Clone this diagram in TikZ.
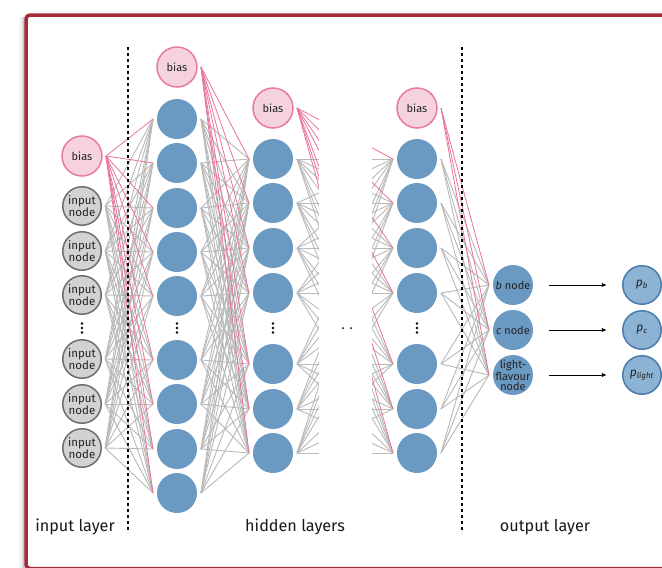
\documentclass[tikz,border=0pt]{standalone}
\usepackage{fontspec}
\setmainfont{Fira Sans}
\usetikzlibrary{arrows.meta}

\definecolor{framered}{RGB}{166,42,56}
\definecolor{neuronblue}{RGB}{106,153,194}
\definecolor{probfill}{RGB}{140,178,212}
\definecolor{probline}{RGB}{74,124,173}
\definecolor{biasfill}{RGB}{245,210,222}
\definecolor{biasline}{RGB}{231,124,163}
\definecolor{inputfill}{RGB}{210,210,210}
\definecolor{inputline}{RGB}{110,110,110}
\definecolor{wgrey}{RGB}{185,185,185}
\definecolor{wpink}{RGB}{232,115,160}
\definecolor{labeltext}{RGB}{35,35,35}

\pgfdeclarelayer{bg}
\pgfdeclarelayer{edges}
\pgfsetlayers{bg,edges,main}

\tikzset{
  neuron/.style={circle,fill=neuronblue,minimum size=40pt,inner sep=0pt,outer sep=4pt,
    font=\fontsize{11}{10}\selectfont,text=labeltext,align=center},
  biasnode/.style={circle,fill=biasfill,draw=biasline,line width=1.5pt,minimum size=40pt,
    inner sep=0pt,outer sep=4pt,font=\fontsize{11}{11}\selectfont,text=labeltext},
  inputnode/.style={circle,fill=inputfill,draw=inputline,line width=1.5pt,minimum size=38.5pt,
    inner sep=0pt,outer sep=4pt,font=\fontsize{11.5}{12}\selectfont,text=labeltext,align=center},
  probnode/.style={circle,fill=probfill,draw=probline,line width=1.5pt,minimum size=38.5pt,
    inner sep=0pt,outer sep=0pt,font=\fontsize{12}{12}\selectfont,text=labeltext},
  wedge/.style={wgrey,line width=0.9pt},
  bedge/.style={wpink,line width=0.8pt},
  arrowc/.style={black,line width=0.9pt,-{Latex[length=5pt,width=4.5pt]},
    shorten <=12pt,shorten >=16pt},
  separator/.style={black,line width=2pt,dash pattern=on 3pt off 3pt},
  layerlabel/.style={font=\fontsize{16.2}{19}\selectfont,text=black!90},
  vdot/.style={fill=black}
}

\begin{document}
\begin{tikzpicture}[x=1pt,y=-1pt]
\useasboundingbox (0,0) rectangle (662,568);

% slide frame with a soft shadow on its left edge
\begin{pgfonlayer}{bg}
  \fill[white] (0,0) rectangle (662,568);
  \foreach \d/\o in {2/0.22,3.5/0.12,5/0.06,6.5/0.03}
    \draw[black,opacity=\o,line width=1.5pt] (26-\d,17) -- (26-\d,568);
  \draw[framered,line width=3.5pt,rounded corners=4pt] (26,15) rectangle (720,568.5);
\end{pgfonlayer}

% input layer
\node[biasnode] (i0) at (82,156) {bias};
\foreach \n/\y in {1/206,2/251,3/295,4/359,5/404,6/448}
  \node[inputnode] (i\n) at (82,\y) {input\\node};

% first hidden layer
\node[biasnode] (a0) at (177,67) {bias};
\foreach \n/\y in {1/119,2/163,3/208,4/252,5/296,6/360,7/404,8/449,9/493}
  \node[neuron] (a\n) at (177,\y) {};

% second hidden layer
\node[biasnode] (b0) at (273,108) {bias};
\foreach \n/\y in {1/159,2/203,3/248,4/293,5/364,6/409,7/453}
  \node[neuron] (b\n) at (273,\y) {};

% last hidden layer
\node[biasnode] (c0) at (417,108) {bias};
\foreach \n/\y in {1/159,2/203,3/248,4/293,5/364,6/409,7/453}
  \node[neuron] (c\n) at (417,\y) {};

% output layer (the three-line text spills over the circle, as a label)
\node[neuron] (o1) at (513,285) {\textit{b} node};
\node[neuron] (o2) at (513,330) {\textit{c} node};
\node[neuron,label={[font=\fontsize{11}{10}\selectfont,text=labeltext,align=center,
    inner sep=0pt]center:light-\\flavour\\node}] (o3) at (513,375) {};

% class probabilities
\node[probnode] (p1) at (642,285) {\textit{p}\textsubscript{\textit{b}}};
\node[probnode] (p2) at (642,330) {\textit{p}\textsubscript{\textit{c}}};
\node[probnode] (p3) at (642,375) {\textit{p}\textsubscript{\textit{light}}};

% weights
\begin{pgfonlayer}{edges}
  \foreach \s in {1,...,6}
    \foreach \t in {1,...,9}
      \draw[wedge] (i\s.east) -- (a\t.west);
  \foreach \s in {1,...,9}
    \foreach \t in {1,...,7}
      \draw[wedge] (a\s.east) -- (b\t.west);
  \foreach \s in {1,...,7}
    \foreach \t in {1,...,7}
      \draw[wedge] (b\s.east) -- (c\t.west);
  \foreach \s in {1,...,7}
    \foreach \t in {1,...,3}
      \draw[wedge] (c\s.east) -- (o\t.west);
  \foreach \t in {1,...,9}
    \draw[bedge] (i0.east) -- (a\t.west);
  \foreach \t in {1,...,7} {
    \draw[bedge] (a0.east) -- (b\t.west);
    \draw[bedge] (b0.east) -- (c\t.west);
  }
  \foreach \t in {1,...,3}
    \draw[bedge] (c0.east) -- (o\t.west);
  % gap standing for the further hidden layers
  \fill[white] (319,85) rectangle (372,480);
\end{pgfonlayer}

% vertical ellipses inside the layers
\foreach \x in {82,177,273,417}
  \foreach \dy in {-4.5,0,4.5}
    \fill[vdot] (\x,328+\dy) circle (1.3pt);
\fill[vdot] (343,328) circle (1pt);
\fill[vdot] (351,328) circle (1pt);

% probabilities from the output nodes
\foreach \n in {1,2,3}
  \draw[arrowc] (o\n) -- (p\n);

% layer separators
\draw[separator] (128,47) -- (128,533);
\draw[separator] (462,47) -- (462,533);

% layer names
\node[layerlabel] (lin) at (75,527) {input layer};
\node[layerlabel] (lhid) at (295,527) {hidden layers};
\node[layerlabel] (lout) at (545,527) {output layer};
\end{tikzpicture}
\end{document}
